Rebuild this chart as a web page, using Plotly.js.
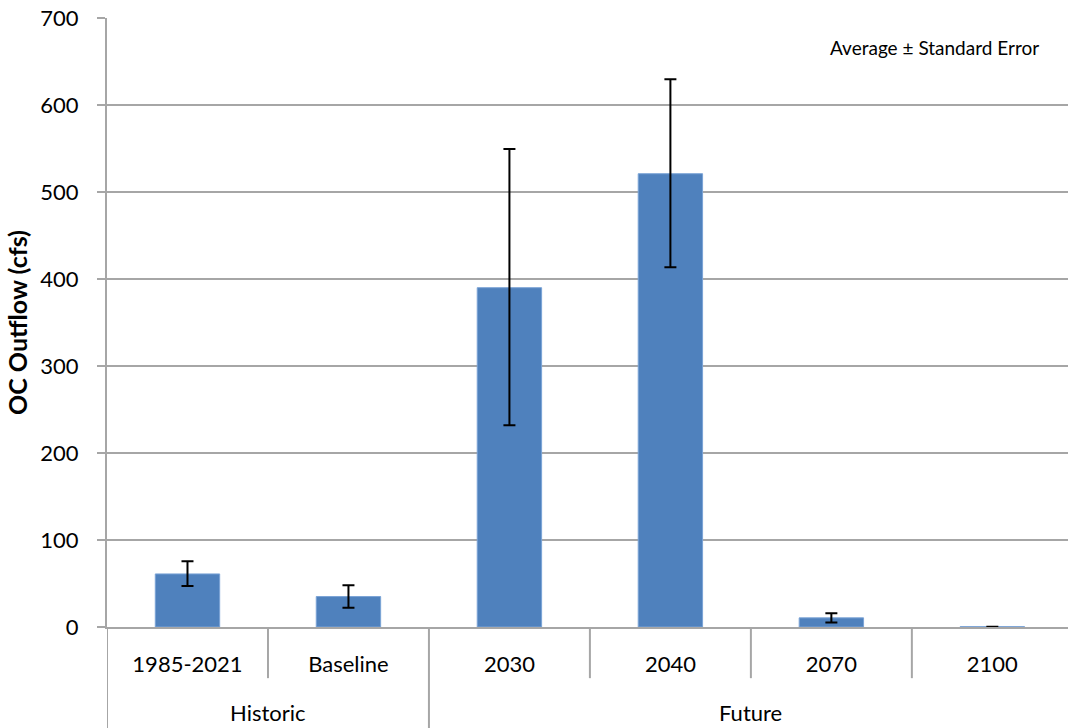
<!DOCTYPE html>
<html>
<head>
<meta charset="utf-8">
<script src="https://cdn.plot.ly/plotly-3.0.1.min.js"></script>
<style>
  html, body { margin: 0; padding: 0; background: #fff; }
  #chart { width: 1068px; height: 728px; }
</style>
</head>
<body>
<div id="chart"></div>
<script>
// data
var groups = ['Historic', 'Historic', 'Future', 'Future', 'Future', 'Future'];
var periods = ['1985-2021', 'Baseline', '2030', '2040', '2070', '2100'];
var outflow = [61, 35, 390, 521, 10.5, 0.4];
var errUp = [14.5, 13, 159.5, 108.5, 5.3, 0];
var errDown = [14, 12.8, 158, 107.5, 5.4, 0];

var gridGrey = '#a6a6a6';
var fontFam = 'Lato, "Open Sans", sans-serif';

var bars = {
    x: periods,
    y: outflow,
    type: 'bar',
    marker: {color: '#4f81bd', line: {color: '#7aa3d6', width: 1}},
    error_y: {
        type: 'data',
        symmetric: false,
        array: errUp,
        arrayminus: errDown,
        color: '#000',
        thickness: 2,
        width: 6
    },
    hoverinfo: 'none'
};

// category separators below the axis: short ones between periods,
// long ones where the group changes (and at the left edge)
var shapes = [];
var annotations = [];
for (let i = 0; i < periods.length; i++) {
    if (i == 0 || groups[i] != groups[i-1]) {
        shapes.push({type: 'line', xref: 'x', yref: 'paper', x0: i-0.5, x1: i-0.5, y0: 0, y1: -0.17,
                     line: {color: gridGrey, width: 2}});
        // group label centred on its run of periods
        let j = i;
        while (j+1 < periods.length && groups[j+1] == groups[i]) j++;
        annotations.push({text: groups[i], xref: 'x', yref: 'paper', x: (i+j)/2, y: -0.14,
                          xanchor: 'center', yanchor: 'middle', showarrow: false,
                          font: {family: fontFam, size: 22, color: '#000'}});
    } else {
        shapes.push({type: 'line', xref: 'x', yref: 'paper', x0: i-0.5, x1: i-0.5, y0: 0, y1: -0.084,
                     line: {color: gridGrey, width: 2}});
    }
}
shapes.push({type: 'line', xref: 'x', yref: 'paper', x0: periods.length-0.5, x1: periods.length-0.5,
             y0: 0, y1: -0.084, line: {color: gridGrey, width: 2}});

annotations.push({
    text: 'Average ± Standard Error',
    xref: 'paper', yref: 'paper',
    x: 0.8606, y: 0.952,
    xanchor: 'center', yanchor: 'middle',
    showarrow: false,
    font: {family: fontFam, size: 19, color: '#000'}
});

var layout = {
    width: 1068,
    height: 728,
    margin: {t: 18, r: 0, l: 107, b: 101},
    paper_bgcolor: '#fff',
    plot_bgcolor: '#fff',
    showlegend: false,
    bargap: 0.6,
    font: {family: fontFam, size: 22, color: '#000'},
    xaxis: {
        type: 'category',
        range: [-0.5, periods.length - 0.53],
        showline: true,
        linecolor: gridGrey,
        linewidth: 2,
        ticks: '',
        ticklabelstandoff: 17,
        tickfont: {family: fontFam, size: 22, color: '#000'},
        showgrid: false
    },
    yaxis: {
        range: [0, 700],
        dtick: 100,
        showline: true,
        linecolor: gridGrey,
        linewidth: 2,
        ticks: 'outside',
        ticklen: 8,
        tickwidth: 2,
        tickcolor: gridGrey,
        ticklabelstandoff: 14,
        showgrid: true,
        gridcolor: gridGrey,
        gridwidth: 2,
        zeroline: false,
        tickfont: {family: fontFam, size: 22, color: '#000'},
        title: {text: '<b>OC Outflow (cfs)</b>', font: {family: fontFam, size: 25}, standoff: 6}
    },
    shapes: shapes,
    annotations: annotations
};

Plotly.newPlot('chart', [bars], layout, {displayModeBar: false, staticPlot: true});
</script>
</body>
</html>
